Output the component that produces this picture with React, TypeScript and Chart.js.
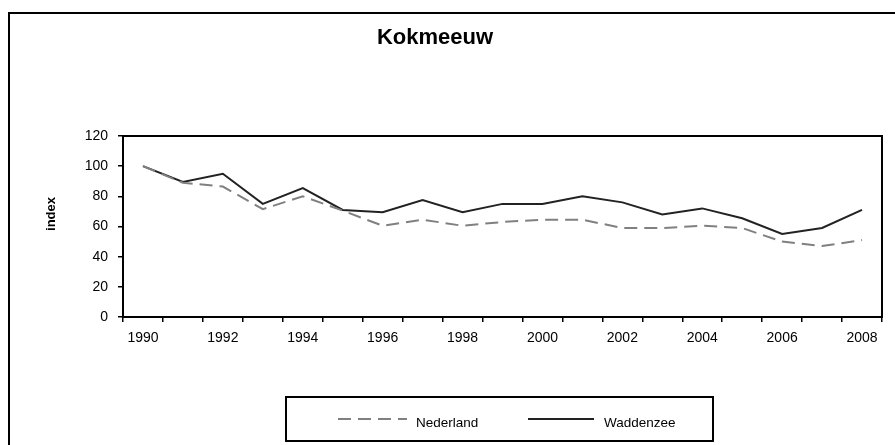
import React, { useEffect, useRef } from "react";
import { Chart, registerables } from "chart.js";

Chart.register(...registerables);

const years: string[] = [
  "1990", "1991", "1992", "1993", "1994", "1995", "1996", "1997", "1998", "1999",
  "2000", "2001", "2002", "2003", "2004", "2005", "2006", "2007", "2008",
];
const nederland: number[] = [
  100, 89, 86.5, 71.5, 80, 70.5, 60.5, 64.5, 60.5, 63, 64.5, 64.5, 59, 59, 60.5, 59, 50, 47, 51,
];
const waddenzee: number[] = [
  100, 89.5, 95, 75, 85.5, 71, 69.5, 77.5, 69.5, 75, 75, 80, 76, 68, 72, 65.5, 55, 59, 71,
];
const yTicks: number[] = [0, 20, 40, 60, 80, 100, 120];
const chartTitle = "Kokmeeuw";
const yTitle = "index";

const FONT = "'Liberation Sans', Arial, sans-serif";

const decorPlugin = {
  id: "decor",
  afterDraw(chart: any) {
    const ctx = chart.ctx as CanvasRenderingContext2D;
    const a = chart.chartArea;
    ctx.save();
    // outer frame (top + left visible)
    ctx.strokeStyle = "#000";
    ctx.lineWidth = 2;
    ctx.beginPath();
    ctx.moveTo(9, 460);
    ctx.lineTo(9, 13);
    ctx.lineTo(910, 13);
    ctx.stroke();
    // plot area frame
    ctx.lineWidth = 2;
    ctx.strokeRect(a.left, a.top, a.right - a.left, a.bottom - a.top);
    // title
    ctx.fillStyle = "#000";
    ctx.font = `bold 22px ${FONT}`;
    ctx.textAlign = "center";
    ctx.textBaseline = "alphabetic";
    ctx.fillText(chartTitle, 435, 44);
    // y title
    ctx.save();
    ctx.translate(55, 214);
    ctx.rotate(-Math.PI / 2);
    ctx.font = `bold 13px ${FONT}`;
    ctx.textAlign = "center";
    ctx.fillText(yTitle, 0, 0);
    ctx.restore();
    // legend box
    ctx.lineWidth = 2;
    ctx.strokeRect(286, 397, 427, 44);
    const items = [
      { ds: chart.data.datasets[0], x0: 338, x1: 407, tx: 416 },
      { ds: chart.data.datasets[1], x0: 528, x1: 594, tx: 604 },
    ];
    ctx.font = `13.5px ${FONT}`;
    ctx.textAlign = "left";
    for (const it of items) {
      ctx.save();
      ctx.strokeStyle = it.ds.borderColor;
      ctx.lineWidth = it.ds.borderWidth;
      ctx.setLineDash(it.ds.borderDash || []);
      ctx.beginPath();
      ctx.moveTo(it.x0, 419);
      ctx.lineTo(it.x1, 419);
      ctx.stroke();
      ctx.restore();
      ctx.fillStyle = "#000";
      ctx.fillText(it.ds.label, it.tx, 427);
    }
    ctx.restore();
  },
};

export default function App() {
  const ref = useRef<HTMLCanvasElement | null>(null);
  useEffect(() => {
    if (!ref.current) return;
    const chart = new Chart(ref.current, {
      type: "line",
      data: {
        labels: years,
        datasets: [
          {
            label: "Nederland",
            data: nederland,
            borderColor: "#808080",
            borderWidth: 2,
            borderDash: [13, 7],
            pointRadius: 0,
            tension: 0,
            fill: false,
          },
          {
            label: "Waddenzee",
            data: waddenzee,
            borderColor: "#222222",
            borderWidth: 2,
            pointRadius: 0,
            tension: 0,
            fill: false,
          },
        ],
      },
      options: {
        responsive: false,
        animation: false,
        layout: { padding: { left: 0, top: 136, right: 13, bottom: 0 } },
        plugins: {
          legend: { display: false },
          title: { display: false },
          tooltip: { enabled: false },
        },
        scales: {
          x: {
            type: "category",
            offset: true,
            grid: {
              offset: true,
              drawOnChartArea: false,
              drawTicks: true,
              tickLength: 5,
              color: "#000",
              lineWidth: 1.5,
            },
            border: { display: true, color: "#000", width: 2 },
            ticks: {
              autoSkip: false,
              maxRotation: 0,
              minRotation: 0,
              padding: 8,
              color: "#000",
              font: { family: FONT, size: 14 },
              callback: (_v: any, i: number) => (i % 2 === 0 ? years[i] : ""),
            },
            afterFit: (s: any) => {
              s.height = 445 - 317;
            },
          },
          y: {
            min: yTicks[0],
            max: yTicks[yTicks.length - 1],
            afterBuildTicks: (s: any) => {
              s.ticks = yTicks.map((v) => ({ value: v }));
            },
            grid: {
              drawOnChartArea: false,
              drawTicks: true,
              tickLength: 5,
              color: "#000",
              lineWidth: 1.5,
            },
            border: { display: true, color: "#000", width: 2 },
            ticks: {
              padding: 10,
              color: "#000",
              font: { family: FONT, size: 14 },
            },
            afterFit: (s: any) => {
              s.width = 123;
            },
          },
        },
      },
      plugins: [decorPlugin],
    });
    return () => chart.destroy();
  }, []);
  return (
    <div style={{ position: "fixed", left: 0, top: 0, width: 895, height: 445, background: "#fff" }}>
      <canvas ref={ref} width={895} height={445} style={{ display: "block" }} />
    </div>
  );
}
